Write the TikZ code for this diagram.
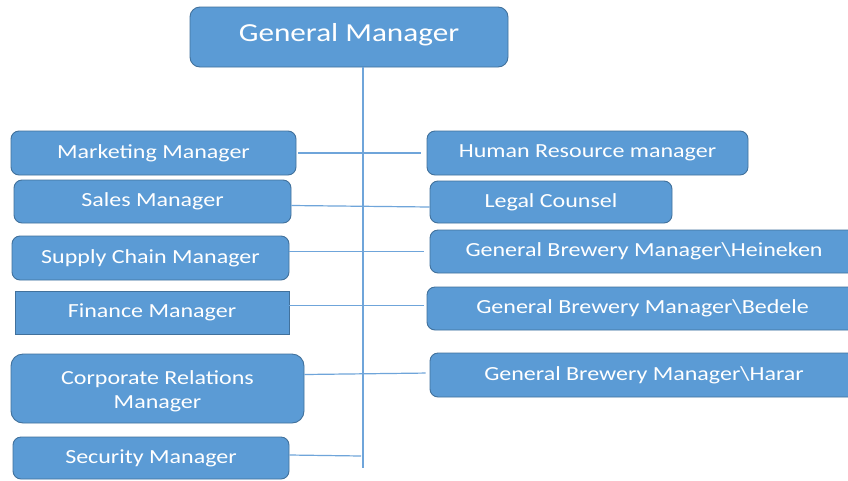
\documentclass[tikz,border=0pt]{standalone}
\usepackage{fontspec}
\setmainfont[FakeStretch=1.2]{Carlito}
\definecolor{boxfill}{HTML}{5B9BD5}
\definecolor{boxline}{HTML}{41719C}
\definecolor{linkcol}{HTML}{6FA5DA}
\begin{document}
\begin{tikzpicture}[x=1pt,y=-1pt,
  box/.style={draw=boxline, fill=boxfill, line width=0.9pt, rounded corners=8pt,
    inner sep=0pt, align=center, text=white, font=\fontsize{20}{24}\selectfont},
  sharpbox/.style={box, rounded corners=0pt},
  link/.style={draw=linkcol, line width=1.2pt}]
\clip (0,0) rectangle (848,480);
\fill[white] (0,0) rectangle (848,480);

% top of the chart
\node[box, rounded corners=10pt, minimum width=318pt, minimum height=60pt,
  font=\fontsize{26}{30}\selectfont] (gm) at (349,37) {\raisebox{10pt}{General Manager}};

% left column
\node[box, minimum width=285pt, minimum height=44pt] (mkt) at (153.5,153) {Marketing Manager};
\node[box, minimum width=277pt, minimum height=43pt] (sal) at (152.5,201.5) {Sales Manager};
\node[box, minimum width=277pt, minimum height=44pt] (scm) at (150.5,258) {Supply Chain Manager};
\node[sharpbox, minimum width=274pt, minimum height=43pt] (fin) at (152,312.5) {Finance Manager};
\node[box, rounded corners=12pt, minimum width=293pt, minimum height=69pt] (crm) at (157.5,388.5) {};
\node[text=white, font=\fontsize{20}{24}\selectfont, align=center, inner sep=0pt]
  (crmtext) at ([yshift=-3pt]crm.center) {Corporate Relations\\Manager};
\node[box, minimum width=276pt, minimum height=42pt] (sec) at (151,458) {Security Manager};

% right column
\node[box, minimum width=321pt, minimum height=44pt] (hr) at (587.5,153) {Human Resource manager};
\node[box, minimum width=242pt, minimum height=42pt] (leg) at (551,202) {Legal Counsel};
\node[box, minimum width=428pt, minimum height=43pt] (hei) at (644,251.5) {General Brewery Manager\textbackslash Heineken};
\node[box, minimum width=431pt, minimum height=43pt] (bed) at (642.5,308.5) {General Brewery Manager\textbackslash Bedele};
\node[box, minimum width=428pt, minimum height=44pt] (har) at (644,375) {General Brewery Manager\textbackslash Harar};

% spine
\coordinate (spineEnd) at (363,468);
\draw[link] (gm.south -| spineEnd) -- (spineEnd);

% branches (yshift is in page direction: positive moves up)
\draw[link, shorten <=2pt, shorten >=6pt] (mkt.east) -- (hr.west);
\draw[link] ([yshift=-4pt]sal.east) -- ([yshift=-5pt]leg.west);
\draw[link, shorten >=6pt] (scm.east |- hei.west) -- (hei.west);
\draw[link, shorten >=3pt] ([yshift=7pt]fin.east) -- ([yshift=3pt]bed.west);
\draw[link, shorten >=4pt] ([yshift=14pt]crm.east) -- ([yshift=2pt]har.west);
\coordinate (secEnd) at (361,456);
\draw[link] ([yshift=3pt]sec.east) -- (secEnd);
\end{tikzpicture}
\end{document}
